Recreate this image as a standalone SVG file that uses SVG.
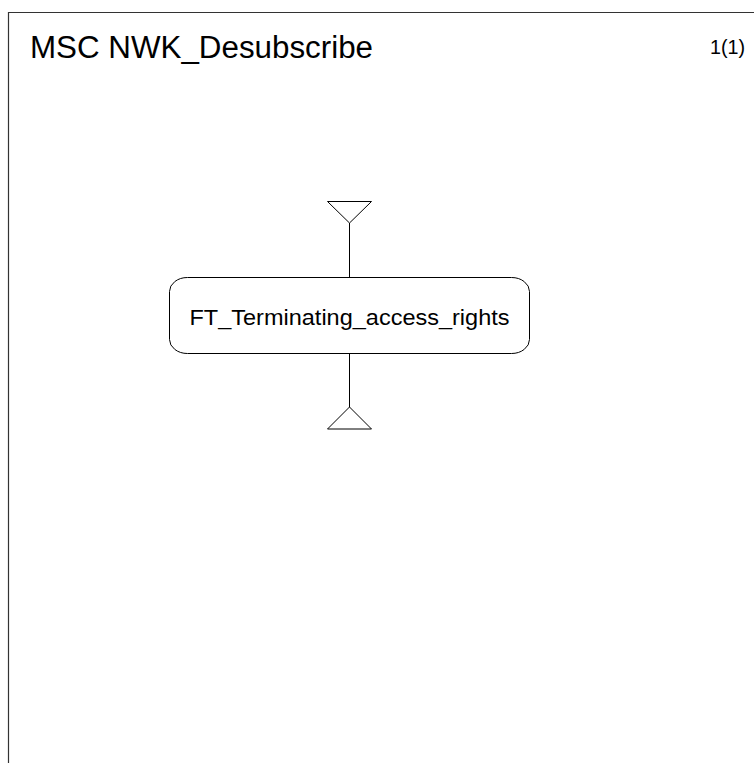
<svg xmlns="http://www.w3.org/2000/svg" width="754" height="763" viewBox="0 0 754 763">
<style>
.ln{fill:none;stroke:#000;stroke-width:1}
.frame{fill:none;stroke:#333;stroke-width:1.2}
.t{font-family:"Liberation Sans",Arial,sans-serif;fill:#000}
</style>
<rect width="754" height="763" fill="#fff"/>
<g id="frame">
<path class="frame" d="M754,12.5 H8.5 V763"/>
<text class="t" x="30" y="58.3" font-size="31" textLength="343" lengthAdjust="spacingAndGlyphs">MSC NWK_Desubscribe</text>
<text class="t" x="710" y="54.3" font-size="20.5" textLength="35" lengthAdjust="spacingAndGlyphs">1(1)</text>
</g>
<g id="connectors">
<line class="ln" x1="349.5" y1="223" x2="349.5" y2="277.5"/>
<line class="ln" x1="349.5" y1="353.5" x2="349.5" y2="407"/>
</g>
<g id="start">
<polygon class="ln" points="327.5,201.5 371.5,201.5 349.5,223"/>
</g>
<g id="ref">
<rect class="ln" x="169.5" y="277.5" width="360" height="76" rx="18" ry="14"/>
<text class="t" x="189.5" y="324.5" font-size="22.5" textLength="320" lengthAdjust="spacingAndGlyphs">FT_Terminating_access_rights</text>
</g>
<g id="end">
<polygon class="ln" points="349.5,407 371.5,429 327.5,429"/>
</g>
</svg>
